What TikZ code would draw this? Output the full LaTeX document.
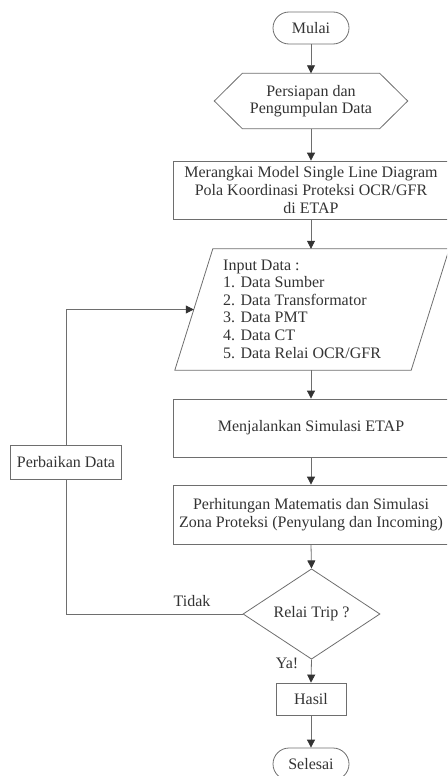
\documentclass[tikz,border=0pt]{standalone}
\usepackage{fontspec}
\setmainfont{Liberation Serif}
\usetikzlibrary{shapes.misc,shapes.geometric,arrows.meta,calc}
\definecolor{ln}{HTML}{6E6E6E}
\definecolor{tx}{HTML}{333333}
\begin{document}
\begin{tikzpicture}[x=1pt,y=-1pt,
  every node/.style={font=\fontsize{16}{17.6}\selectfont, text=tx},
  box/.style={draw=ln, line width=0.8pt, rectangle, align=center, inner sep=0pt},
  term/.style={draw=ln, line width=0.8pt, rounded rectangle, inner sep=0pt},
  arr/.style={draw=ln, line width=0.8pt, -{Triangle[length=8pt,width=8pt,color=tx]}},
  lnk/.style={draw=ln, line width=0.8pt}]
\useasboundingbox (0,0) rectangle (447,776);
\clip (0,0) rectangle (447,776);

\node[term, minimum width=76pt, minimum height=32pt] (mulai) at (311,28) {Mulai};

\node[minimum width=193pt, minimum height=55pt, inner sep=0pt, align=center] (hex) at (311,101) {Persiapan dan\\Pengumpulan Data};
\draw[lnk] ($(hex.north west)+(28,0)$) -- ($(hex.north east)+(-28,0)$) -- (hex.east) -- ($(hex.south east)+(-28,0)$) -- ($(hex.south west)+(28,0)$) -- (hex.west) -- cycle;

\node[box, minimum width=276pt, minimum height=58pt] (model) at (311,190) {Merangkai Model Single Line Diagram\\Pola Koordinasi Proteksi OCR/GFR\\di ETAP};

\node[minimum width=274pt, minimum height=121pt, inner sep=0pt] (inp) at (312,309.5) {};
\coordinate (tl) at ($(inp.north west)+(38,0)$);
\coordinate (br) at ($(inp.south east)+(-38,0)$);
\draw[lnk] (tl) -- (inp.north east) -- (br) -- (inp.south west) -- cycle;
\coordinate (ml) at ($(tl)!0.5!(inp.south west)$);
\node[anchor=west, align=left, inner sep=0pt] (inptxt) at (223,309) {Input Data :\\1. Data Sumber\\2. Data Transformator\\3. Data PMT\\4. Data CT\\5. Data Relai OCR/GFR};

\node[box, minimum width=276pt, minimum height=58pt] (sim) at (311,428) {Menjalankan Simulasi ETAP};

\node[box, minimum width=276pt, minimum height=59pt] (hit) at (311,514.5) {Perhitungan Matematis dan Simulasi\\Zona Proteksi (Penyulang dan Incoming)};

\node[diamond, draw=ln, line width=0.8pt, minimum width=137pt, minimum height=82pt, inner sep=0pt] (trip) at (311.5,614) {Relai Trip ?};

\node[box, minimum width=70pt, minimum height=32pt] (hasil) at (311,699) {Hasil};

\node[term, minimum width=76pt, minimum height=32pt] (selesai) at (311,764) {Selesai};

\node[box, minimum width=111pt, minimum height=34pt] (fix) at (66,462) {Perbaikan Data};

\node (tidak) at (192,601) {Tidak};
\node (ya) at (287,663) {Ya!};

\draw[arr] (mulai.south) -- (hex.north);
\draw[arr] (hex.south) -- (model.north);
\draw[arr] (model.south) -- (model.south |- inp.north);
\draw[arr] (sim.north |- inp.south) -- (sim.north);
\draw[arr] (sim.south) -- (hit.north);
\draw[arr] (hit.south) -- (trip.north);
\draw[arr] (trip.south) -- (hasil.north);
\draw[arr] (hasil.south) -- (selesai.north);

\draw[lnk] (trip.west) -- (trip.west -| fix.south) -- (fix.south);
\draw[arr] (fix.north) |- (ml);
\end{tikzpicture}
\end{document}
